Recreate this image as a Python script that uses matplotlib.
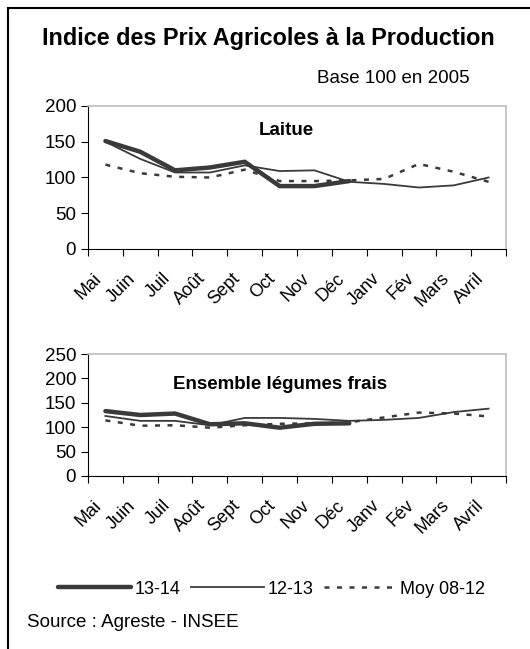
import matplotlib
matplotlib.use("Agg")
import matplotlib.pyplot as plt
import matplotlib.transforms as mtransforms
from matplotlib.lines import Line2D

plt.rcParams["font.family"] = ["Liberation Sans", "DejaVu Sans"]

months = ["Mai", "Juin", "Juil", "Août", "Sept", "Oct", "Nov", "Déc",
          "Janv", "Fév", "Mars", "Avril"]

# Laitue
laitue_1314 = [151, 136, 110, 114, 122, 88, 88, 95]
laitue_1213 = [150, 126, 107, 107, 117, 109, 110, 94, 91, 86, 89, 100]
laitue_moy = [118, 106, 101, 100, 111, 95, 95, 96, 98, 119, 108, 94]

# Ensemble légumes frais
leg_1314 = [133, 125, 128, 106, 108, 99, 107, 108]
leg_1213 = [123, 113, 113, 104, 119, 119, 117, 113, 115, 119, 131, 138]
leg_moy = [114, 103, 104, 99, 104, 107, 108, 110, 120, 130, 128, 122]

col = "#3a3a3a"
styles = {
    "13-14": dict(color=col, lw=3.2, solid_capstyle="round"),
    "12-13": dict(color=col, lw=1.3),
    "Moy 08-12": dict(color=col, lw=1.8, linestyle=(0, (2.0, 3.0))),
}

fig = plt.figure(figsize=(5.30, 6.49), dpi=100)

# frame (only top and left edges visible)
fig.add_artist(Line2D([8 / 530, 1.0], [1 - 8 / 649, 1 - 8 / 649], transform=fig.transFigure, color="black", lw=1.5))
fig.add_artist(Line2D([8 / 530, 8 / 530], [0, 1 - 8 / 649], transform=fig.transFigure, color="black", lw=1.5))

fig.text(268 / 530, 1 - 45 / 649, "Indice des Prix Agricoles à la Production",
         ha="center", va="baseline", fontsize=16.8, fontweight="bold")
fig.text(470 / 530, 1 - 83 / 649, "Base 100 en 2005", ha="right", va="baseline", fontsize=13.5)

# shift month labels a little left and down (Excel-like placement)
label_shift = mtransforms.ScaledTranslation(-0.13, -0.07, fig.dpi_scale_trans)


def draw_panel(ax, s1314, s1213, smoy, ymax, label, label_x, label_y):
    x = list(range(len(months)))
    ax.plot(x, smoy, **styles["Moy 08-12"])
    ax.plot(x, s1213, **styles["12-13"])
    ax.plot(x[:len(s1314)], s1314, **styles["13-14"])
    ax.set_xlim(-0.5, len(months) - 0.5)
    ax.set_ylim(0, ymax)
    ax.set_yticks(range(0, ymax + 1, 50))
    ax.set_xticks([i - 0.5 for i in range(len(months) + 1)])
    ax.set_xticklabels([])
    ax.set_xticks(x, minor=True)
    ax.set_xticklabels(months, minor=True, rotation=45, ha="right", va="top",
                       rotation_mode="anchor", fontsize=13)
    ax.tick_params(axis="x", which="minor", length=0, pad=10)
    ax.tick_params(axis="x", which="major", length=5, direction="out", color="black")
    ax.tick_params(axis="y", length=5, labelsize=13.5, direction="out")
    for lbl in ax.get_xticklabels(minor=True):
        lbl.set_transform(lbl.get_transform() + label_shift)
    for side in ["top", "right"]:
        ax.spines[side].set_color("#bdbdbd")
        ax.spines[side].set_linewidth(1.2)
    for side in ["left", "bottom"]:
        ax.spines[side].set_color("black")
    ax.text(label_x, label_y, label, transform=ax.transAxes, ha="center", va="center",
            fontsize=13.5, fontweight="bold")


ax1 = fig.add_axes([88 / 530, 1 - 249 / 649, 418 / 530, 143 / 649])
draw_panel(ax1, laitue_1314, laitue_1213, laitue_moy, 200, "Laitue", 0.474, 0.83)

ax2 = fig.add_axes([88 / 530, 1 - 476 / 649, 418 / 530, 122 / 649])
draw_panel(ax2, leg_1314, leg_1213, leg_moy, 250, "Ensemble légumes frais", 0.46, 0.746)

handles = [Line2D([], [], **styles[k]) for k in ["13-14", "12-13", "Moy 08-12"]]
fig.legend(handles, ["13-14", "12-13", "Moy 08-12"], loc="center",
           bbox_to_anchor=(272 / 530, 1 - 589 / 649), ncol=3, frameon=False,
           fontsize=13, handlelength=4.0, handletextpad=0.22, columnspacing=0.6)

fig.text(27 / 530, 1 - 627 / 649, "Source : Agreste - INSEE", ha="left", va="baseline", fontsize=13.5)

fig.savefig("out.png", dpi=100)
